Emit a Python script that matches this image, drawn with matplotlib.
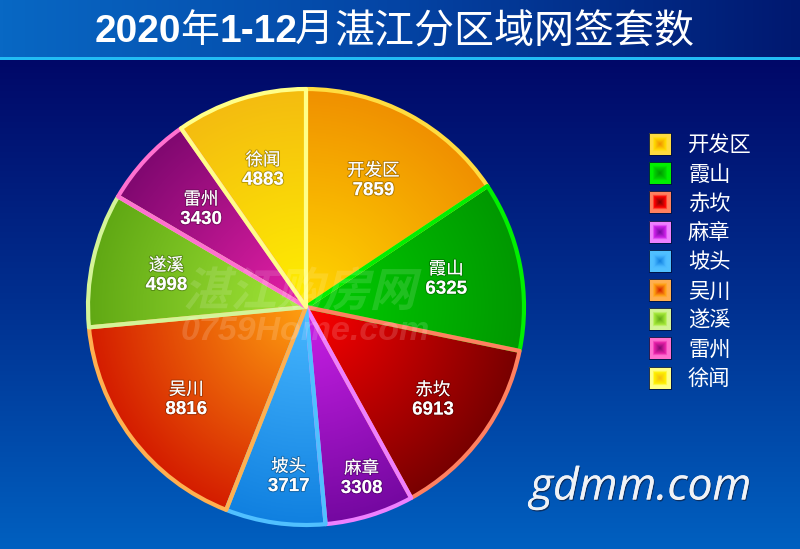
import matplotlib
matplotlib.use("Agg")
import matplotlib.pyplot as plt
import matplotlib.patheffects as pe
import numpy as np
from matplotlib.colors import LinearSegmentedColormap
from matplotlib.patches import Rectangle
from matplotlib.transforms import Affine2D

WIDTH, HEIGHT = 800, 549
CJK = "Noto Sans CJK SC"

districts = ["开发区", "霞山", "赤坎", "麻章", "坡头", "吴川", "遂溪", "雷州", "徐闻"]
deals = [7859, 6325, 6913, 3308, 3717, 8816, 4998, 3430, 4883]
inner_colors = ["#ffd800", "#00d000", "#ff0000", "#cc20e8", "#48b8ff", "#ffa010", "#a4e838", "#e820a8", "#fff000"]
outer_colors = ["#f09000", "#009800", "#780000", "#7408a0", "#1080e0", "#d41c00", "#60a814", "#800870", "#f4bc10"]
edge_colors = ["#ffdc40", "#00f000", "#ff8060", "#ee80ff", "#50c0ff", "#ffb050", "#d4f498", "#ff70d0", "#ffff88"]

title_parts = [("2020", 95, "bold", 28), ("年", 180, "normal", 28), ("1-12", 220, "bold", 28),
               ("月", 295, "normal", 28), ("湛江分区域网签套数", 334, "normal", 28.8)]

# how far out each label sits, as a share of the radius
label_radius = [0.655, 0.655, 0.723, 0.825, 0.788, 0.71, 0.656, 0.656, 0.656]
# small sideways nudge of the labels that do not sit on the wedge's middle line, pixels
label_nudge = [0, 0, 0, 3, 7, 4, 0, 0, 0]


class Skew(pe.AbstractPathEffect):
    # slants CJK text, those fonts have no italic face
    def __init__(self, degrees, base_y, color, alpha=1.0):
        super().__init__()
        self.degrees, self.base_y, self.color, self.alpha = degrees, base_y, color, alpha

    def draw_path(self, renderer, gc, tpath, affine, rgbFace=None):
        skew = Affine2D().translate(0, -self.base_y).skew_deg(self.degrees, 0).translate(0, self.base_y)
        gc0 = renderer.new_gc()
        gc0.copy_properties(gc)
        gc0.set_alpha(self.alpha)
        gc0.set_linewidth(0)
        renderer.draw_path(gc0, tpath, affine + skew, matplotlib.colors.to_rgb(self.color))
        gc0.restore()


def cmap_of(*colors):
    return LinearSegmentedColormap.from_list("c", colors)


fig = plt.figure(figsize=(WIDTH / 100, HEIGHT / 100), dpi=100)
ax = fig.add_axes([0, 0, 1, 1])

# background
body = np.linspace(0, 1, 256).reshape(-1, 1)
ax.imshow(body, extent=(0, WIDTH, 0, HEIGHT - 60), origin="upper", aspect="auto",
          cmap=cmap_of("#000868", "#003090", "#0060c0"), zorder=0)
header = np.linspace(0, 1, 256).reshape(1, -1)
ax.imshow(header, extent=(0, WIDTH, HEIGHT - 57, HEIGHT), aspect="auto",
          cmap=cmap_of("#0868c4", "#0444a4", "#001870"), zorder=0)
ax.add_patch(Rectangle((0, HEIGHT - 60), WIDTH, 3, color="#22bcf4", lw=0, zorder=1))

# pie
cx, cy, radius = 306, HEIGHT - 307, 218
wedges, _ = ax.pie(deals, center=(cx, cy), radius=radius, startangle=90, counterclock=False, frame=True)
yy, xx = np.mgrid[-1:1:500j, -1:1:500j]
dist = np.clip(np.hypot(xx, yy), 0, 1)
for i, wedge in enumerate(wedges):
    wedge.set(facecolor="none", edgecolor=edge_colors[i], linewidth=3, zorder=4, joinstyle="round")
    im = ax.imshow(dist, extent=(cx - radius, cx + radius, cy - radius, cy + radius), aspect="auto",
                   cmap=cmap_of(inner_colors[i], outer_colors[i]), vmin=0, vmax=1, zorder=3)
    im.set_clip_path(wedge)
    mid = np.deg2rad((wedge.theta1 + wedge.theta2) / 2)
    lx = cx + label_radius[i] * radius * np.cos(mid) + label_nudge[i]
    ly = cy + label_radius[i] * radius * np.sin(mid)
    shadow = [pe.withStroke(linewidth=1.5, foreground="#00000040")]
    ax.text(lx, ly + 10.5, districts[i], color="white", fontsize=12.6, family=CJK, ha="center", va="center",
            zorder=7, path_effects=shadow)
    ax.text(lx, ly - 9.5, str(deals[i]), color="white", fontsize=13.5, family="Liberation Sans", weight="bold",
            ha="center", va="center", zorder=7, path_effects=shadow)

# watermark
ax.text(303, HEIGHT - 292, "湛江购房网", fontsize=33.5, family=CJK, weight="bold", ha="center", va="center", zorder=6,
        path_effects=[Skew(14, HEIGHT - 292, "white", 0.13)])
ax.text(305, HEIGHT - 332, "0759Home.com", fontsize=24.5, family="Liberation Sans", weight="bold", style="italic",
        color="white", alpha=0.15, ha="center", va="center", zorder=6)

# legend
square = np.maximum(np.abs(xx), np.abs(yy))
for i, name in enumerate(districts):
    y0 = HEIGHT - (144 + i * 29.2)
    swatch = LinearSegmentedColormap.from_list(
        "s", [(0, outer_colors[i]), (0.5, inner_colors[i]), (0.68, edge_colors[i]), (1, edge_colors[i])])
    ax.imshow(square, extent=(649, 671, y0 - 11, y0 + 11), aspect="auto", cmap=swatch, vmin=0, vmax=1, zorder=4)
    ax.add_patch(Rectangle((649, y0 - 11), 22, 22, facecolor="none", edgecolor="#00103c", lw=0.6, zorder=5))
    ax.text(688, y0 - 1.5, name, color="white", fontsize=15.3, family=CJK, ha="left", va="center", zorder=5)

# title
for text, x, weight, size in title_parts:
    ax.text(x, HEIGHT - 32, text, color="white", fontsize=size, family=["Liberation Sans", CJK], weight=weight,
            ha="left", va="center", zorder=5)

ax.text(530, HEIGHT - 488, "gdmm.com", color="#f0f2f6", fontsize=32, family="Open Sans", style="italic",
        ha="left", va="center", zorder=5,
        path_effects=[pe.withSimplePatchShadow(offset=(0.7, -1), shadow_rgbFace="#102040", alpha=0.7), pe.Normal()])

ax.set_xlim(0, WIDTH)
ax.set_ylim(0, HEIGHT)
ax.axis("off")
fig.savefig("out.png", dpi=100)
